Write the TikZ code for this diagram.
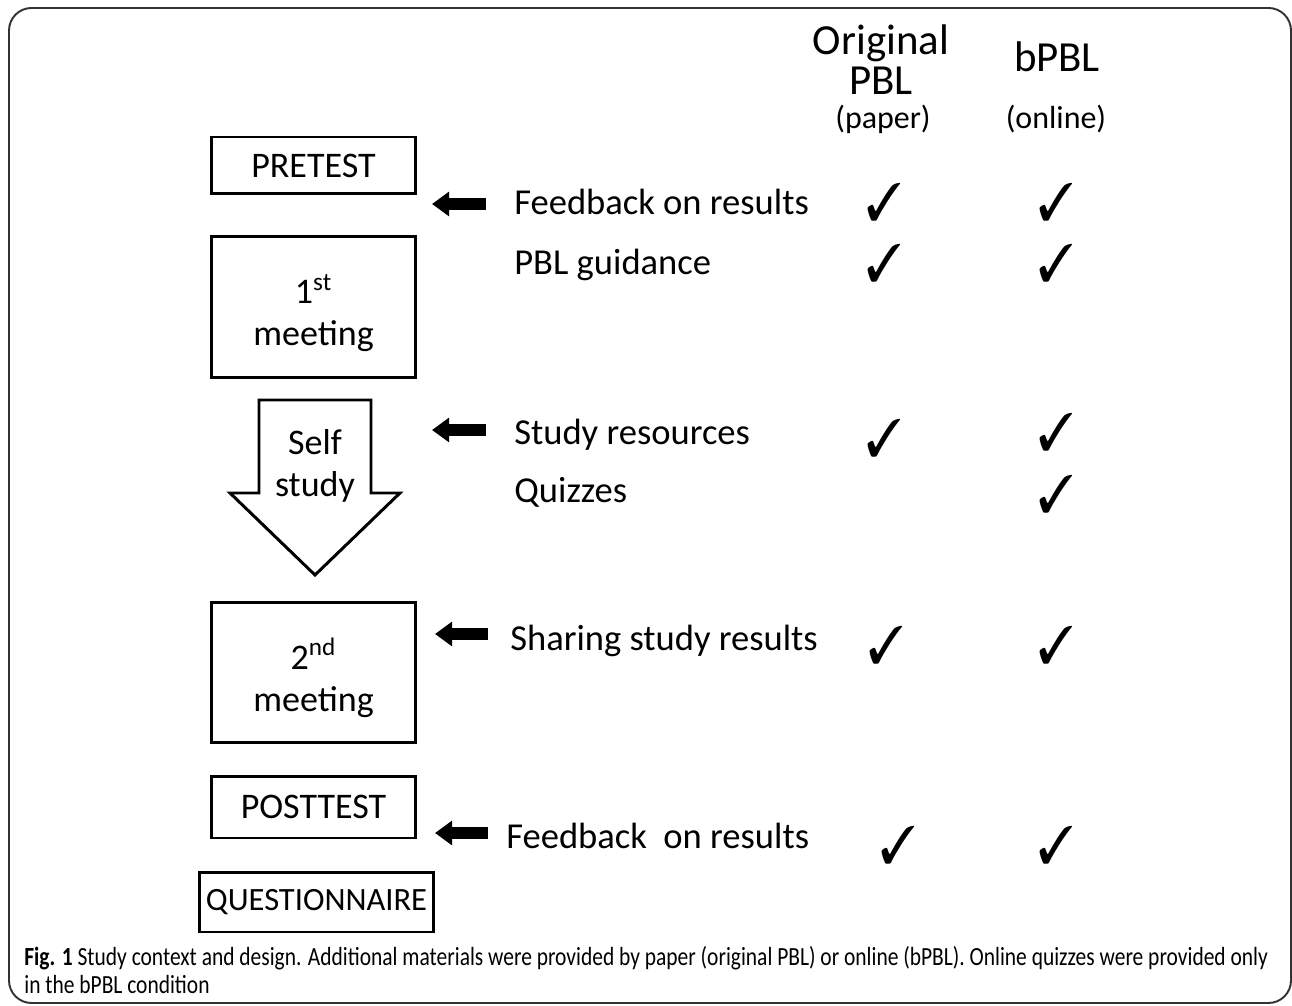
\documentclass[tikz,border=0pt]{standalone}
\usepackage{fontspec}
\usepackage{pifont}
\setmainfont{Carlito}
\newfontfamily\capfont[FakeStretch=0.82]{Carlito}
\usetikzlibrary{arrows.meta}
\newcommand{\tickmark}{\scalebox{1.12}[1.25]{\ding{51}}}
\tikzset{
  frame/.style={draw=black!80, line width=1.1pt, rounded corners=0.45cm},
  stagebox/.style={draw=black, line width=1.7pt, inner sep=0pt, align=center, font=\fontsize{20.5}{23.5}\selectfont},
  stageline/.style={draw=black, line width=1.7pt, line join=miter},
  stagetext/.style={inner sep=0pt, align=center, font=\fontsize{20.5}{24}\selectfont},
  itemlabel/.style={anchor=base west, inner sep=0pt, font=\fontsize{20.8}{24}\selectfont},
  headlabel/.style={anchor=base, inner sep=0pt, font=\fontsize{24.4}{28}\selectfont},
  sublabel/.style={anchor=base, inner sep=0pt, font=\fontsize{18.2}{22}\selectfont},
  tick/.style={inner sep=0pt, font=\fontsize{24}{24}\selectfont},
  fatarrow/.style={line width=0.24cm, -{Triangle[length=0.34cm,width=0.47cm]}},
  caption/.style={anchor=base west, inner sep=0pt, align=left, font=\capfont\fontsize{14.9}{15.4}\selectfont},
}
\begin{document}
\begin{tikzpicture}[x=0.02cm, y=-0.02cm]
\useasboundingbox (0,0) rectangle (1292,1006);
\draw[frame] (9,8) rectangle (1291,1003);
% column heads
\node[headlabel] (orighead) at (881,55) {Original};
\node[headlabel] (origpbl) at (881,95) {PBL};
\node[sublabel] (origsub) at (883,129) {(paper)};
\node[headlabel] (bpblhead) at (1057,72) {bPBL};
\node[sublabel] (bpblsub) at (1056,129) {(online)};
% stages
\node[stagebox, minimum width=4.1cm, minimum height=1.14cm] (pretest) at (313.5,165.5) {PRETEST};
\node[stagebox, minimum width=4.1cm, minimum height=2.84cm] (meetone) at (313.5,307) {};
\node[stagetext] (meetonetext) at (313.5,313) {1\textsuperscript{st}\\meeting};
\draw[stageline] (259,400) -- (371,400) -- (371,493) -- (400,493) -- (315,575) -- (230,493) -- (259,493) -- cycle;
\node[stagetext] (selfstudy) at (315,466) {Self\\study};
\node[stagebox, minimum width=4.1cm, minimum height=2.82cm] (meettwo) at (313.5,672.5) {};
\node[stagetext] (meettwotext) at (313.5,678) {2\textsuperscript{nd}\\meeting};
\node[stagebox, minimum width=4.1cm, minimum height=1.24cm] (posttest) at (313.5,807) {POSTTEST};
\node[stagebox, minimum width=4.7cm, minimum height=1.2cm, font=\fontsize{18.5}{22}\selectfont] (quest) at (316.5,902) {QUESTIONNAIRE};
% materials
\node[itemlabel] (feedone) at (514,215) {Feedback on results};
\node[itemlabel] (guide) at (514,275) {PBL guidance};
\node[itemlabel] (resource) at (514,445) {Study resources};
\node[itemlabel] (quiz) at (514,503) {Quizzes};
\node[itemlabel] (share) at (510,651) {Sharing study results};
\node[itemlabel] (feedtwo) at (506,848) {Feedback\ \ on results};
% arrows
\coordinate (arrfeedone) at (486,204);
\coordinate (arrresource) at (486,430);
\coordinate (arrshare) at (488,634);
\coordinate (arrfeedtwo) at (488,833);
\draw[fatarrow] (arrfeedone) -- ++(-54,0);
\draw[fatarrow] (arrresource) -- ++(-54,0);
\draw[fatarrow] (arrshare) -- ++(-53,0);
\draw[fatarrow] (arrfeedtwo) -- ++(-53,0);
% ticks
\node[tick] (tfeedonea) at (884,202) {\tickmark};
\node[tick] (tfeedoneb) at (1056,202) {\tickmark};
\node[tick] (tguidea) at (884,263) {\tickmark};
\node[tick] (tguideb) at (1056,263) {\tickmark};
\node[tick] (tresourcea) at (884,438) {\tickmark};
\node[tick] (tresourceb) at (1056,432) {\tickmark};
\node[tick] (tquizb) at (1056,494) {\tickmark};
\node[tick] (tsharea) at (886,645) {\tickmark};
\node[tick] (tshareb) at (1056,645) {\tickmark};
\node[tick] (tfeedtwoa) at (898,845) {\tickmark};
\node[tick] (tfeedtwob) at (1056,845) {\tickmark};
% caption
\node[caption] (figcap) at (24,993) {\textbf{Fig. 1} Study context and design. Additional materials were provided by paper (original PBL) or online (bPBL). Online quizzes were provided only\\in the bPBL condition};
\end{tikzpicture}
\end{document}
